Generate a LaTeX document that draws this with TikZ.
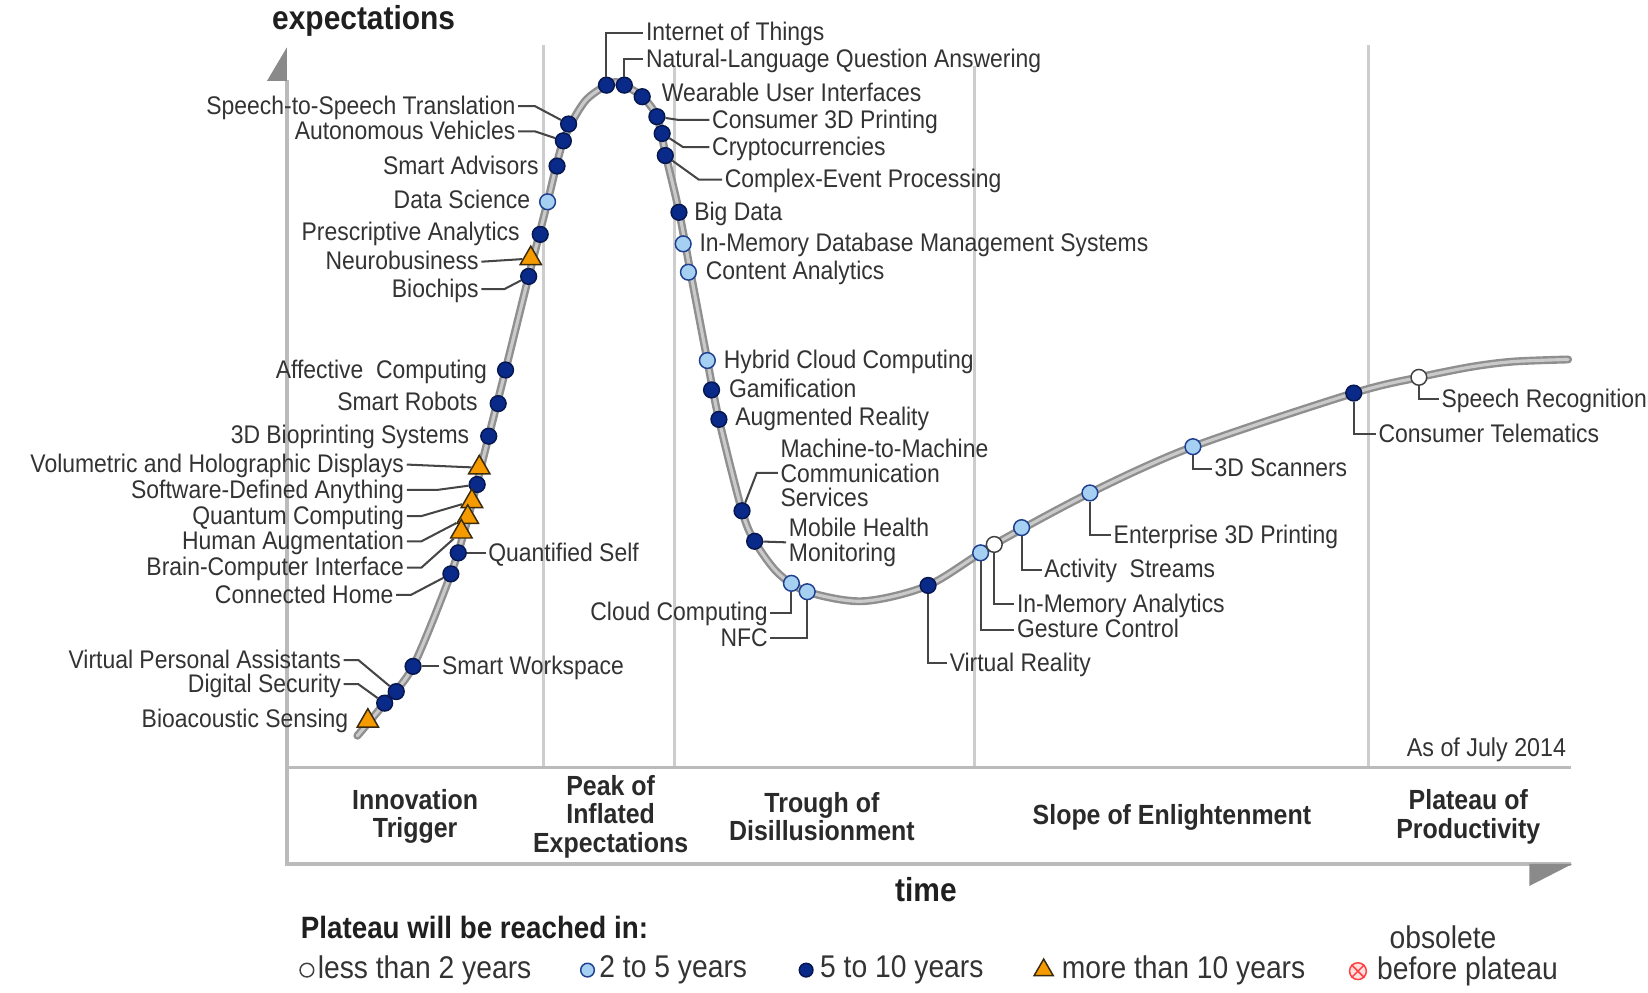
\documentclass[tikz,border=0pt]{standalone}
\usepackage{fontspec}
\setmainfont{Liberation Sans}[FakeStretch=0.9]
\usetikzlibrary{shapes.geometric}
\definecolor{navy}{HTML}{0A2A8A}
\definecolor{navyline}{HTML}{06164F}
\definecolor{lightblue}{HTML}{A6D0F2}
\definecolor{ltline}{HTML}{1F3F8F}
\definecolor{orng}{HTML}{F59B00}
\definecolor{triline}{HTML}{3A2A10}
\definecolor{labelgray}{HTML}{333333}
\definecolor{phasegray}{HTML}{2A2A2A}
\definecolor{plinegray}{HTML}{CDCDCD}
\definecolor{axisgray}{HTML}{BBBBBB}
\definecolor{arrowgray}{HTML}{8A8A8A}
\definecolor{curveout}{HTML}{8F8F8F}
\definecolor{curvein}{HTML}{CACACA}
\definecolor{leadgray}{HTML}{454545}
\begin{document}
\begin{tikzpicture}[x=0.02cm,y=-0.02cm,
  lbl/.style={font=\fontsize{13.8}{13.3}\selectfont, text=labelgray, inner sep=0pt, outer xsep=1.5pt},
  lblL/.style={lbl, anchor=east, text height=9.9pt, text depth=1pt},
  lblR/.style={lbl, anchor=west, text height=9.9pt, text depth=1pt},
  lblM/.style={lbl, anchor=west, align=left},
  lblME/.style={lbl, anchor=east, text height=9.9pt, text depth=1pt},
  phase/.style={font=\bfseries\fontsize{15}{15.4}\selectfont, align=center, text=phasegray, inner sep=0pt},
  title/.style={font=\bfseries\fontsize{18}{18}\selectfont, text=black!88, inner sep=0pt},
  legtext/.style={font=\fontsize{17}{17}\selectfont, text=labelgray, inner sep=0pt, anchor=west},
  dk/.style={circle, draw=navyline, fill=navy, line width=0.8pt, minimum size=0.3cm, inner sep=0pt},
  lt/.style={dk, fill=lightblue, draw=ltline},
  wt/.style={dk, fill=white, draw=black!75},
  tri/.style={regular polygon, regular polygon sides=3, draw=triline, fill=orng, line width=0.8pt, minimum size=0.47cm, inner sep=0pt},
  legsym/.style={minimum size=0.26cm},
  obs/.style={circle, draw=red!75, fill=pink!50, line width=0.8pt, minimum size=0.32cm, inner sep=0pt},
  lead/.style={draw=leadgray, line width=1.1pt},
  phaseline/.style={draw=plinegray, line width=1.7pt},
  axisline/.style={draw=axisgray, line width=1.7pt},
  hype/.style={draw=curveout, line width=1.3pt, double=curvein, double distance=1.7pt, line cap=round}
]
\useasboundingbox (0,0) rectangle (1568,944);

% phase separators
\draw[phaseline] (517,43) -- (517,730);
\draw[phaseline] (642,63) -- (642,730);
\draw[phaseline] (927,63) -- (927,730);
\draw[phaseline] (1302,43) -- (1302,730);

% axes and frame
\draw[axisline] (273,76) -- (273,822) -- (1495,822);
\draw[axisline] (273,730) -- (1495,730);
\fill[arrowgray] (273,45) -- (273,77) -- (254,77) -- cycle;
\fill[arrowgray] (1496,822) -- (1455,822) -- (1455,843) -- cycle;

% hype curve
\draw[hype] plot[smooth, tension=0.5] coordinates {
 (340,700) (366,669) (393,634) (429,546) (446,490) (465,415) (481,352)
 (503,263) (521,192) (536,134) (556,97) (577,81) (586,78) (594,81) (611,92)
 (625,111) (634,150) (646,201) (657,259) (673,343) (684,399) (706,486)
 (718,515) (740,545) (768,563) (821,572) (883,557) (946,518) (1037,469)
 (1135,425) (1288,374) (1350,359) (1400,349) (1440,344) (1492,342)};

% titles
\node[title] (ylab) at (346,20) {expectations};
\node[title] (xlab) at (881,846) {time};
\node[lbl, anchor=east, outer xsep=0pt, font=\fontsize{14}{14}\selectfont] (asof) at (1490,713) {As of July 2014};

% phases
\node[phase] (ph1) at (395,777) {Innovation\\Trigger};
\node[phase] (ph2) at (581,777) {Peak of\\Inflated\\Expectations};
\node[phase] (ph3) at (782,777) {Trough of\\Disillusionment};
\node[phase] (ph4) at (1115,778) {Slope of Enlightenment};
\node[phase] (ph5) at (1397,777) {Plateau of\\Productivity};

% markers: innovation trigger / rising
\node[dk] (sst) at (541,118) {};
\node[dk] (av) at (536,134) {};
\node[dk] (sa) at (530,158) {};
\node[lt] (dsc) at (521,192) {};
\node[dk] (pa) at (514,223) {};
\node[tri] (nb) at (505,246) {};
\node[dk] (bc) at (503,263) {};
\node[dk] (afc) at (481,352) {};
\node[dk] (sr) at (474,384) {};
\node[dk] (bps) at (465,415) {};
\node[tri] (vhd) at (456,445) {};
\node[dk] (sda) at (454,461) {};
\node[tri] (qc) at (449,477) {};
\node[tri] (ha) at (445,492) {};
\node[tri] (bci) at (439,506) {};
\node[dk] (qs) at (436,526) {};
\node[dk] (ch) at (429,546) {};
\node[dk] (sw) at (393,634) {};
\node[dk] (vpa) at (377,658) {};
\node[dk] (dsec) at (366,669) {};
\node[tri] (bas) at (350,686) {};

% markers: peak and beyond
\node[dk] (iot) at (577,81) {};
\node[dk] (nlqa) at (594,81) {};
\node[dk] (wui) at (611,92) {};
\node[dk] (c3d) at (625,111) {};
\node[dk] (cry) at (630,127) {};
\node[dk] (cep) at (633,148) {};
\node[dk] (bd) at (646,202) {};
\node[lt] (imdb) at (650,232) {};
\node[lt] (ca) at (655,259) {};
\node[lt] (hcc) at (673,343) {};
\node[dk] (gam) at (677,371) {};
\node[dk] (ar) at (684,399) {};
\node[dk] (m2m) at (706,486) {};
\node[dk] (mhm) at (718,515) {};
\node[lt] (cc) at (753,555) {};
\node[lt] (nfc) at (768,563) {};
\node[dk] (vr) at (883,557) {};
\node[lt] (gc) at (933,526) {};
\node[wt] (ima) at (946,518) {};
\node[lt] (as) at (972,502) {};
\node[lt] (e3d) at (1037,469) {};
\node[lt] (s3d) at (1135,425) {};
\node[dk] (ct) at (1288,374) {};
\node[wt] (spr) at (1350,359) {};

% labels left side
\node[lblL] (Lsst) at (493,101) {Speech-to-Speech Translation};
\node[lblL] (Lav) at (493,125) {Autonomous Vehicles};
\node[lblL] (Lsa) at (515,158) {Smart Advisors};
\node[lblL] (Ldsc) at (507,191) {Data Science};
\node[lblL] (Lpa) at (497,221) {Prescriptive Analytics};
\node[lblL] (Lnb) at (458,249) {Neurobusiness};
\node[lblL] (Lbc) at (458,275) {Biochips};
\node[lblL] (Lafc) at (466,352) {Affective~ Computing};
\node[lblL] (Lsr) at (457,383) {Smart Robots};
\node[lblL] (Lbps) at (449,414) {3D Bioprinting Systems};
\node[lblL] (Lvhd) at (387,442) {Volumetric and Holographic Displays};
\node[lblL] (Lsda) at (387,466) {Software-Defined Anything};
\node[lblL] (Lqc) at (387,491) {Quantum Computing};
\node[lblL] (Lha) at (387,515) {Human Augmentation};
\node[lblL] (Lbci) at (387,540) {Brain-Computer Interface};
\node[lblL] (Lch) at (377,566) {Connected Home};
\node[lblR] (Lqs) at (462,526) {Quantified Self};
\node[lblL] (Lvpa) at (327,628) {Virtual Personal Assistants};
\node[lblL] (Ldsec) at (327,651) {Digital Security};
\node[lblL] (Lbas) at (334,684) {Bioacoustic Sensing};
\node[lblR] (Lsw) at (418,634) {Smart Workspace};

% labels right side
\node[lblR] (Liot) at (612,31) {Internet of Things};
\node[lblR] (Lnlqa) at (612,56) {Natural-Language Question Answering};
\node[lblR] (Lwui) at (627,89) {Wearable User Interfaces};
\node[lblR] (Lc3d) at (675,114) {Consumer 3D Printing};
\node[lblR] (Lcry) at (675,140) {Cryptocurrencies};
\node[lblR] (Lcep) at (687,171) {Complex-Event Processing};
\node[lblR] (Lbd) at (658,202) {Big Data};
\node[lblR] (Limdb) at (663,231) {In-Memory Database Management Systems};
\node[lblR] (Lca) at (669,258) {Content Analytics};
\node[lblR] (Lhcc) at (686,343) {Hybrid Cloud Computing};
\node[lblR] (Lgam) at (691,370) {Gamification};
\node[lblR] (Lar) at (697,397) {Augmented Reality};
\node[lblM] (Lm2m) at (740,450) {Machine-to-Machine\\Communication\\Services};
\node[lblM] (Lmhm) at (748,516) {Mobile Health\\Monitoring};
\node[lblME] (Lcc) at (733,583) {Cloud Computing};
\node[lblME] (Lnfc) at (733,607) {NFC};
\node[lblR] (Lvr) at (901,631) {Virtual Reality};
\node[lblR] (Lgc) at (965,599) {Gesture Control};
\node[lblR] (Lima) at (965,575) {In-Memory Analytics};
\node[lblR] (Las) at (991,542) {Activity~ Streams};
\node[lblR] (Le3d) at (1057,509) {Enterprise 3D Printing};
\node[lblR] (Ls3d) at (1153,446) {3D Scanners};
\node[lblR] (Lct) at (1309,413) {Consumer Telematics};
\node[lblR] (Lspr) at (1369,380) {Speech Recognition};

% leaders
\draw[lead] (Lsst.east) -- ++(16,0) -- (sst);
\draw[lead] (Lav.east) -- ++(16,0) -- (av);
\draw[lead] (Lnb.east) -- (nb);
\draw[lead] (Lbc.east) -- ++(22,0) -- (bc);
\draw[lead] (Lvhd.east) -- (vhd);
\draw[lead] (Lsda.east) -- ++(30,0) -- (sda);
\draw[lead] (Lqc.east) -- ++(14,0) -- (qc);
\draw[lead] (Lha.east) -- ++(14,0) -- (ha);
\draw[lead] (Lbci.east) -- ++(14,0) -- (bci);
\draw[lead] (Lch.east) -- ++(14,0) -- (ch);
\draw[lead] (qs) -- (Lqs.west);
\draw[lead] (Lvpa.east) -- ++(14,0) -- (vpa);
\draw[lead] (Ldsec.east) -- ++(14,0) -- (dsec);
\draw[lead] (sw) -- (Lsw.west);
\draw[lead] (iot) |- (Liot.west);
\draw[lead] (nlqa) |- (Lnlqa.west);
\draw[lead] (Lc3d.west) -- ++(-30,0) -- (c3d);
\draw[lead] (Lcry.west) -- ++(-25,0) -- (cry);
\draw[lead] (Lcep.west) -- ++(-22,0) -- (cep);
\draw[lead] (Lm2m.west) -- ++(-20,0) -- (m2m);
\draw[lead] (mhm) -- (Lmhm.west);
\draw[lead] (cc) |- (Lcc.east);
\draw[lead] (nfc) |- (Lnfc.east);
\draw[lead] (vr) |- (Lvr.west);
\draw[lead] (gc) |- (Lgc.west);
\draw[lead] (ima) |- (Lima.west);
\draw[lead] (as) |- (Las.west);
\draw[lead] (e3d) |- (Le3d.west);
\draw[lead] (s3d) |- (Ls3d.west);
\draw[lead] (ct) |- (Lct.west);
\draw[lead] (spr) |- (Lspr.west);

% legend
\node[title, anchor=west, font=\bfseries\fontsize{16.7}{16.7}\selectfont] (legtitle) at (286,882) {Plateau will be reached in:};
\node[wt, legsym] (lg1) at (292,923) {};
\node[legtext] (lt1) at (302,923) {less than 2 years};
\node[lt, legsym] (lg2) at (559,923) {};
\node[legtext] (lt2) at (570,923) {2 to 5 years};
\node[dk, legsym] (lg3) at (767,923) {};
\node[legtext] (lt3) at (780,923) {5 to 10 years};
\node[tri, minimum size=0.42cm] (lg4) at (993,923) {};
\node[legtext] (lt4) at (1010,923) {more than 10 years};
\node[obs] (lg5) at (1292,924) {};
\draw[red!75, line width=0.8pt] (lg5.north west) -- (lg5.south east) (lg5.north east) -- (lg5.south west);
\node[legtext, anchor=center] (lt5a) at (1373,892) {obsolete};
\node[legtext] (lt5b) at (1310,924) {before plateau};
\end{tikzpicture}
\end{document}
